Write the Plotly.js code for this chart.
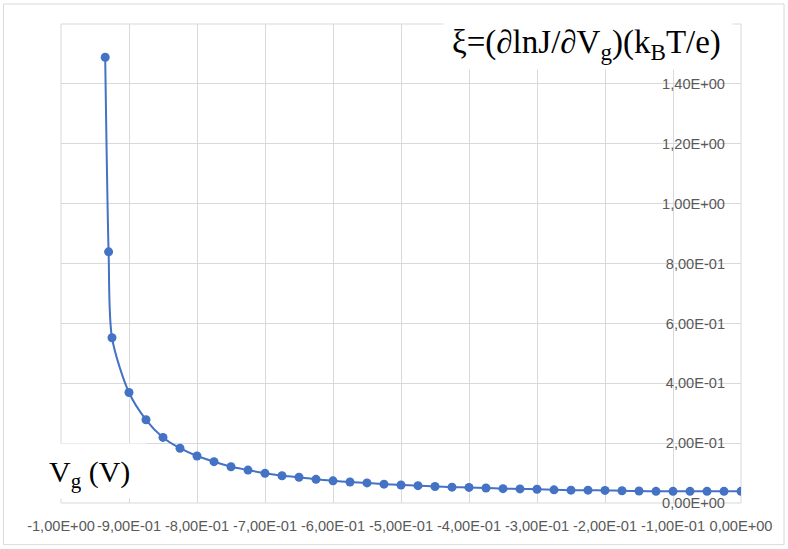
<!DOCTYPE html>
<html>
<head>
<meta charset="utf-8">
<script src="https://cdn.plot.ly/plotly-3.0.1.min.js"></script>
<style>
html,body{margin:0;padding:0;background:#fff;}
#chart{width:788px;height:549px;}
</style>
</head>
<body>
<div id="chart"></div>
<script>
// Gate voltage (V)
const vg = [-0.935, -0.93, -0.925, -0.9, -0.875, -0.85, -0.825, -0.8, -0.775, -0.75,
            -0.725, -0.7, -0.675, -0.65, -0.625, -0.6, -0.575, -0.55, -0.525, -0.5,
            -0.475, -0.45, -0.425, -0.4, -0.375, -0.35, -0.325, -0.3, -0.275, -0.25,
            -0.225, -0.2, -0.175, -0.15, -0.125, -0.1, -0.075, -0.05, -0.025, 0];
// xi = (d lnJ / d Vg)(kB T / e)
const xi = [1.489, 0.839, 0.552, 0.369, 0.278, 0.219, 0.183, 0.157, 0.138, 0.121,
            0.110, 0.099, 0.091, 0.086, 0.079, 0.074, 0.070, 0.067, 0.063, 0.060,
            0.058, 0.055, 0.053, 0.052, 0.050, 0.048, 0.047, 0.046, 0.044, 0.043,
            0.043, 0.042, 0.041, 0.040, 0.039, 0.039, 0.039, 0.039, 0.039, 0.039];

const xTickVals = [-1, -0.9, -0.8, -0.7, -0.6, -0.5, -0.4, -0.3, -0.2, -0.1, 0];
const xTickText = ["-1,00E+00", "-9,00E-01", "-8,00E-01", "-7,00E-01", "-6,00E-01",
                   "-5,00E-01", "-4,00E-01", "-3,00E-01", "-2,00E-01", "-1,00E-01", "0,00E+00"];
const yTickVals = [0, 0.2, 0.4, 0.6, 0.8, 1.0, 1.2, 1.4];
const yTickText = ["0,00E+00", "2,00E-01", "4,00E-01", "6,00E-01", "8,00E-01",
                   "1,00E+00", "1,20E+00", "1,40E+00"];

const titleText = "ξ=(∂lnJ/∂V<sub>g</sub>)(k<sub>B</sub>T/e)";
const xLabelText = "V<sub>g</sub> (V)";

const tickFont = {family: "Liberation Sans, Arial, sans-serif", size: 14.6, color: "#595959"};
const serif = "Liberation Serif, Times New Roman, serif";
const grid = "#d9d9d9";

const trace = {
  x: vg, y: xi, type: "scatter", mode: "lines+markers",
  line: {color: "#4472C4", width: 2, shape: "spline", smoothing: 0.8},
  marker: {color: "#4472C4", size: 9},
  hoverinfo: "x+y"
};

const layout = {
  width: 788, height: 549,
  margin: {l: 61, r: 47, t: 24, b: 46},
  paper_bgcolor: "#fff", plot_bgcolor: "#fff",
  showlegend: false,
  xaxis: {
    range: [-1, 0], tickvals: xTickVals, ticktext: xTickText, tickangle: 0,
    showgrid: true, gridcolor: grid, gridwidth: 1, zeroline: false,
    showline: false, ticks: "", ticklabelstandoff: 12, tickfont: tickFont
  },
  yaxis: {
    range: [0, 1.6], tickvals: yTickVals, ticktext: yTickText,
    anchor: "free", position: 1, side: "left", ticklabelstandoff: 16,
    showgrid: true, gridcolor: grid, gridwidth: 1, zeroline: false,
    showline: false, ticks: "", tickfont: tickFont
  },
  shapes: [
    {type: "rect", xref: "paper", yref: "paper", x0: 0, x1: 1, y0: 0, y1: 1,
     line: {color: grid, width: 1}, fillcolor: "rgba(0,0,0,0)", layer: "below"},
    {type: "rect", xref: "paper", yref: "paper",
     x0: -0.0846, x1: 1.0633, y0: -0.087, y1: 1.0418,
     line: {color: grid, width: 1}, fillcolor: "rgba(0,0,0,0)", layer: "below"}
  ],
  annotations: [
    {text: " ", xref: "x", yref: "y", x: -0.2252, y: 1.531,
     showarrow: false, width: 286, height: 46, bgcolor: "#fff",
     xanchor: "center", yanchor: "middle", font: {size: 10}},
    {text: titleText, xref: "x", yref: "y", x: -0.2266, y: 1.531,
     showarrow: false, xanchor: "center", yanchor: "middle",
     font: {family: serif, size: 33, color: "#000"}},
    {text: " ", xref: "x", yref: "y", x: -0.958, y: 0.108,
     showarrow: false, width: 110, height: 52, bgcolor: "#fff",
     xanchor: "center", yanchor: "middle", font: {size: 10}},
    {text: xLabelText, xref: "x", yref: "y", x: -0.958, y: 0.098,
     showarrow: false, xanchor: "center", yanchor: "middle",
     font: {family: serif, size: 30, color: "#000"}}
  ]
};

Plotly.newPlot("chart", [trace], layout, {displayModeBar: false, staticPlot: true});
</script>
</body>
</html>
